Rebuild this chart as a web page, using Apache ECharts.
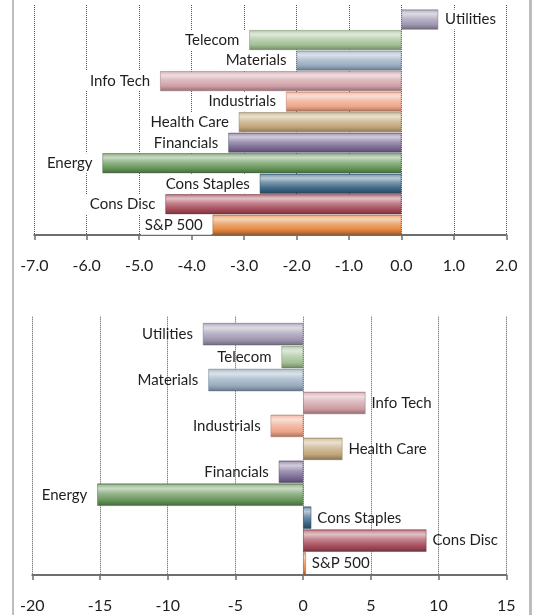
<!DOCTYPE html>
<html>
<head>
<meta charset="utf-8">
<script src="https://cdn.jsdelivr.net/npm/echarts@6/dist/echarts.min.js"></script>
<style>
  html, body { margin: 0; padding: 0; background: #fff; }
  #chart { width: 535px; height: 615px; }
</style>
</head>
<body>
<div id="chart"></div>
<script>
// ---- data (bottom to top, as drawn on the category axis) ----
const categories = ['S&P 500', 'Cons Disc', 'Cons Staples', 'Energy', 'Financials', 'Health Care', 'Industrials', 'Info Tech', 'Materials', 'Telecom', 'Utilities'];
const topValues = [-3.6, -4.5, -2.7, -5.7, -3.3, -3.1, -2.2, -4.6, -2.0, -2.9, 0.7];
const bottomValues = [0.2, 9.1, 0.6, -15.2, -1.8, 2.9, -2.4, 4.6, -7.0, -1.6, -7.4];
const topAxis = { min: -7, max: 2, interval: 1 };
const bottomAxis = { min: -20, max: 15, interval: 5 };

// ---- styling ----
const barColors = ['#e5873f', '#a84d5c', '#3b6785', '#67965a', '#7b6c95', '#c1a67a', '#eea488', '#cf9ea5', '#97abc0', '#a2c094', '#9f97b1'];
const FONT = "Lato, 'DejaVu Sans Condensed', sans-serif";

function mix(hex, target, t) {
  const n = parseInt(hex.slice(1), 16);
  const r = (n >> 16) & 255, g = (n >> 8) & 255, b = n & 255;
  const tr = target ? 255 : 0;
  const f = c => Math.round(c + (tr - c) * t);
  return 'rgb(' + f(r) + ',' + f(g) + ',' + f(b) + ')';
}
function gloss(hex) {
  return new echarts.graphic.LinearGradient(0, 0, 0, 1, [
    { offset: 0, color: mix(hex, 0, 0.1) },
    { offset: 0.08, color: mix(hex, 1, 0.4) },
    { offset: 0.22, color: mix(hex, 1, 0.65) },
    { offset: 0.45, color: mix(hex, 1, 0.3) },
    { offset: 0.75, color: hex },
    { offset: 0.92, color: mix(hex, 0, 0.2) },
    { offset: 1, color: mix(hex, 0, 0.4) }
  ]);
}

function seriesData(values, topChart) {
  return values.map((v, i) => ({
    value: v,
    itemStyle: { color: gloss(barColors[i]), borderColor: mix(barColors[i], 0, 0.25), borderWidth: 0.5 },
    label: topChart
      ? { position: v < 0 ? 'left' : 'right', distance: 1,
          padding: v < 0 ? [0, 9, 0, 4] : [0, 3, 0, 6] }
      : { position: v < 0 ? 'left' : 'right', distance: v < 0 ? 10 : 6 }
  }));
}

function xAxisCfg(gridIndex, ax, decimals) {
  return {
    type: 'value', gridIndex: gridIndex,
    min: ax.min, max: ax.max, interval: ax.interval,
    axisLine: { show: true, onZero: false, lineStyle: { color: '#6e6e6e', width: 2 } },
    axisTick: { show: true, length: 5, lineStyle: { color: '#6e6e6e', width: 1.5 } },
    axisLabel: {
      color: '#1e1e1e', fontFamily: FONT, fontSize: 16, margin: 23,
      formatter: v => decimals ? v.toFixed(1) : String(v)
    },
    splitLine: { show: false }
  };
}
// grid-line-only axes (the plot area's dotted lines reach a little above the bars)
function gridLineAxis(gridIndex, ax) {
  return {
    type: 'value', gridIndex: gridIndex,
    min: ax.min, max: ax.max, interval: ax.interval,
    axisLine: { show: false }, axisTick: { show: false }, axisLabel: { show: false },
    splitLine: { show: true, lineStyle: { color: '#555', width: 1, type: [1, 1] } }
  };
}

const labelBase = { show: true, formatter: '{b}', color: '#1e1e1e', fontFamily: FONT, fontSize: 15 };

const chart = echarts.init(document.getElementById('chart'), null, { renderer: 'canvas' });
chart.setOption({
  backgroundColor: '#fff',
  animation: false,
  grid: [
    { left: 34.3, right: 28.7, top: 9.3, height: 225.7 },
    { left: 32.3, right: 28.7, top: 322.7, height: 252.3 },
    { left: 34.3, right: 28.7, top: 5, height: 230 },
    { left: 32.3, right: 28.7, top: 316.7, height: 258.3 }
  ],
  xAxis: [
    xAxisCfg(0, topAxis, true), xAxisCfg(1, bottomAxis, false),
    gridLineAxis(2, topAxis), gridLineAxis(3, bottomAxis)
  ],
  yAxis: [
    { type: 'category', gridIndex: 0, data: categories, show: false },
    { type: 'category', gridIndex: 1, data: categories, show: false },
    { type: 'category', gridIndex: 2, data: categories, show: false },
    { type: 'category', gridIndex: 3, data: categories, show: false }
  ],
  series: [
    {
      type: 'bar', xAxisIndex: 0, yAxisIndex: 0, barCategoryGap: '3%', z: 3,
      label: Object.assign({}, labelBase, { backgroundColor: '#fff', lineHeight: 20 }),
      data: seriesData(topValues, true)
    },
    {
      type: 'bar', xAxisIndex: 1, yAxisIndex: 1, barCategoryGap: '3%', z: 3,
      label: Object.assign({}, labelBase, { lineHeight: 20 }),
      data: seriesData(bottomValues, false)
    }
  ],
  graphic: [
    { type: 'rect', shape: { x: 12, y: 0, width: 2, height: 615 }, style: { fill: '#bdbdbd' }, silent: true },
    { type: 'rect', shape: { x: 529, y: 0, width: 3, height: 615 }, style: { fill: '#bdbdbd' }, silent: true }
  ]
});
</script>
</body>
</html>
